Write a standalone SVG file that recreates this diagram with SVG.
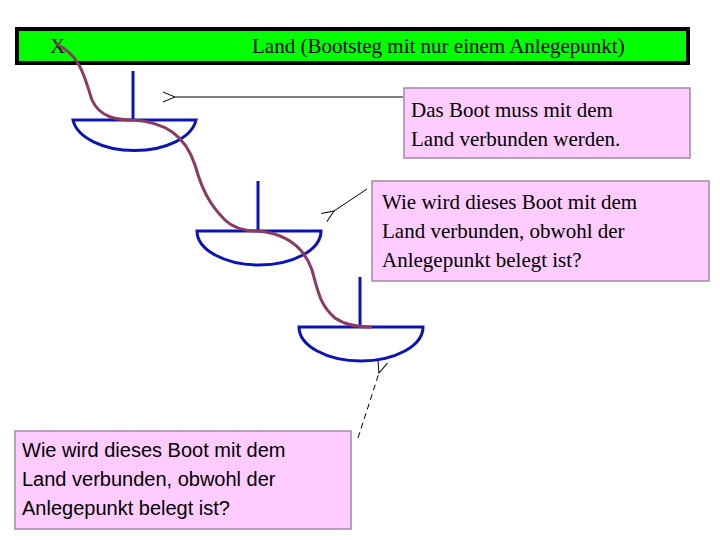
<svg xmlns="http://www.w3.org/2000/svg" width="720" height="540" viewBox="0 0 720 540">
<style>
.hull{fill:none;stroke:#0a14b4;stroke-width:3}
.box{fill:#ffccff;stroke:#a08aa8;stroke-width:1.5}
.serif{font-family:"Liberation Serif",serif;font-size:21px;fill:#000}
.sans{font-family:"Liberation Sans",sans-serif;font-size:20px;fill:#000}
.arr{fill:none;stroke:#000;stroke-width:1}
</style>
<defs>
<marker id="open" markerWidth="14" markerHeight="12" refX="1" refY="6" orient="auto" markerUnits="userSpaceOnUse">
<path d="M13,1 L1,6 L13,11" fill="none" stroke="#000" stroke-width="1"/>
</marker>
</defs>
<rect width="720" height="540" fill="#fff"/>
<g id="land">
<rect x="17" y="29" width="671" height="34" fill="#00ff00" stroke="#000" stroke-width="4"/>
<text class="serif" x="50" y="53">X</text>
<text class="serif" x="252" y="53">Land (Bootsteg mit nur einem Anlegepunkt)</text>
</g>
<g id="boat1">
<line class="hull" x1="133" y1="71" x2="133" y2="120"/>
<path class="hull" d="M73,120 H196 A62,35 0 0 1 73,120 Z"/>
</g>
<g id="boat2">
<line class="hull" x1="258" y1="181" x2="258" y2="231"/>
<path class="hull" d="M197,231 H321 A62,34 0 0 1 197,231 Z"/>
</g>
<g id="boat3">
<line class="hull" x1="360" y1="277" x2="360" y2="327"/>
<path class="hull" d="M299,327 H423 A62,34 0 0 1 299,327 Z"/>
</g>
<g id="rope">
<path d="M56,44 C82,56 85,80 92,100 C100,118 118,120 133,120 C165,122 185,135 195,165 C202,190 210,205 225,220 C235,230 248,231 258,231 C290,234 305,250 312,270 C318,292 320,305 335,318 C345,325 358,327 372,327" fill="none" stroke="#8b3a62" stroke-width="3"/>
</g>
<g id="note1">
<rect class="box" x="404" y="88" width="286" height="70"/>
<text class="serif" x="411" y="117">Das Boot muss mit dem</text>
<text class="serif" x="411" y="146">Land verbunden werden.</text>
</g>
<g id="note2">
<rect class="box" x="372" y="181" width="337" height="100"/>
<text class="serif" x="382" y="209">Wie wird dieses Boot mit dem</text>
<text class="serif" x="382" y="238">Land verbunden, obwohl der</text>
<text class="serif" x="382" y="267">Anlegepunkt belegt ist?</text>
</g>
<g id="note3">
<rect class="box" x="15" y="431" width="336" height="98"/>
<text class="sans" x="22" y="457">Wie wird dieses Boot mit dem</text>
<text class="sans" x="22" y="486">Land verbunden, obwohl der</text>
<text class="sans" x="22" y="515">Anlegepunkt belegt ist?</text>
</g>
<g id="connectors">
<line class="arr" x1="403" y1="97" x2="175" y2="97" marker-end="url(#open)"/>
<line class="arr" x1="367" y1="189" x2="334" y2="211" marker-end="url(#open)"/>
<line class="arr" x1="358" y1="438" x2="379" y2="373" stroke-dasharray="6,4" marker-end="url(#open)"/>
</g>
</svg>
